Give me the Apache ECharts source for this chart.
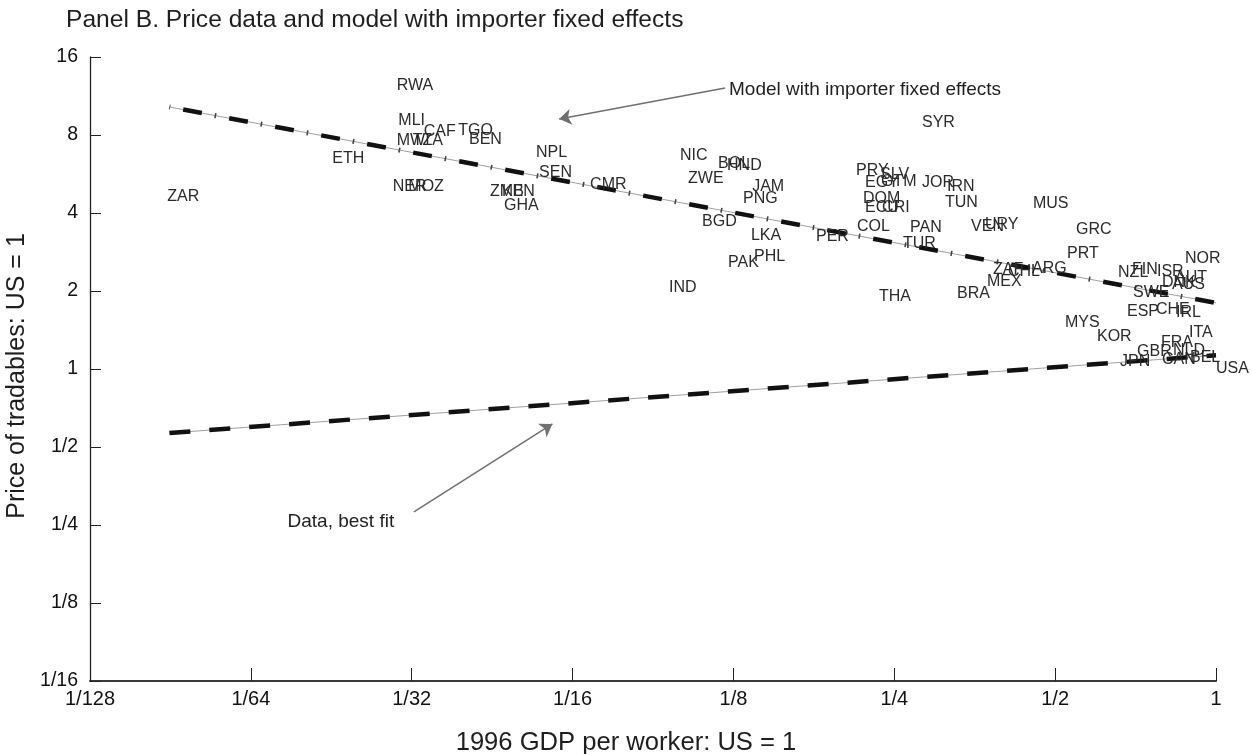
<!DOCTYPE html>
<html>
<head>
<meta charset="utf-8">
<title>Panel B. Price data and model with importer fixed effects</title>
<script src="https://cdn.jsdelivr.net/npm/echarts@6/dist/echarts.min.js"></script>
<style>
  html, body { margin: 0; padding: 0; background: #ffffff; }
  #chart { width: 1252px; height: 754px; }
</style>
</head>
<body>
<div id="chart"></div>
<script>
// Country codes with GDP per worker and price of tradables (both relative to the US)
const countryCodes = [
  'ZAR', 'ETH', 'RWA', 'MLI', 'MWI', 'TZA', 'CAF', 'TGO', 'BEN', 'NER',
  'MOZ', 'ZMB', 'KEN', 'GHA', 'NPL', 'SEN', 'CMR', 'IND', 'NIC', 'ZWE',
  'BGD', 'BOL', 'HND', 'PAK', 'PNG', 'LKA', 'JAM', 'PHL', 'PER', 'PRY',
  'COL', 'DOM', 'EGY', 'ECU', 'THA', 'SLV', 'GTM', 'CRI', 'TUR', 'PAN',
  'SYR', 'JOR', 'TUN', 'IRN', 'BRA', 'VEN', 'URY', 'MEX', 'ZAF', 'CHL',
  'ARG', 'MUS', 'MYS', 'PRT', 'GRC', 'KOR', 'NZL', 'JPN', 'ESP', 'FIN',
  'SWE', 'GBR', 'CHE', 'ISR', 'FRA', 'DNK', 'CAN', 'AUS', 'NLD', 'AUT',
  'IRL', 'NOR', 'ITA', 'BEL', 'USA'
];
const gdpPerWorker = [
  0.0109, 0.0222, 0.0293, 0.0295, 0.0293, 0.0314, 0.0329, 0.0382, 0.0400, 0.0288,
  0.0308, 0.0438, 0.0461, 0.0465, 0.0534, 0.0541, 0.0674, 0.0947, 0.0993, 0.1028,
  0.1092, 0.1170, 0.1216, 0.1221, 0.1303, 0.1348, 0.1355, 0.1366, 0.1784, 0.2120,
  0.2128, 0.2185, 0.2204, 0.2204, 0.2341, 0.2351, 0.2360, 0.2372, 0.2595, 0.2676,
  0.2817, 0.2817, 0.3110, 0.3138, 0.3276, 0.3480, 0.3696, 0.3727, 0.3826, 0.4081,
  0.4525, 0.4544, 0.5217, 0.5263, 0.5471, 0.5988, 0.6557, 0.6612, 0.6815, 0.6964,
  0.6993, 0.7115, 0.7721, 0.7755, 0.7890, 0.7924, 0.7924, 0.8273, 0.8309, 0.8381,
  0.8417, 0.8749, 0.8901, 0.8939, 1.0000
];
const tradablesPrice = [
  4.61, 6.46, 12.36, 9.06, 7.58, 7.58, 8.21, 8.29, 7.65, 5.08,
  5.04, 4.82, 4.82, 4.26, 6.82, 5.71, 5.13, 2.07, 6.64, 5.41,
  3.69, 6.18, 6.08, 2.57, 4.53, 3.26, 5.04, 2.71, 3.23, 5.81,
  3.56, 4.53, 5.22, 4.18, 1.90, 5.61, 5.27, 4.18, 3.06, 3.50,
  8.90, 5.22, 4.37, 5.08, 1.95, 3.53, 3.60, 2.17, 2.41, 2.37,
  2.43, 4.33, 1.51, 2.78, 3.44, 1.33, 2.35, 1.07, 1.66, 2.41,
  1.98, 1.17, 1.70, 2.37, 1.26, 2.15, 1.09, 2.11, 1.18, 2.25,
  1.65, 2.66, 1.38, 1.11, 1.00
];

// Fitted lines, evaluated at the poorest country and at the US
const fitGdp = [0.011, 1];
const modelFitPrice = [10.26, 1.80];
const dataFitPrice = [0.566, 1.13];

// Callout texts and their arrows (GDP, price)
const calloutText = ['Model with importer fixed effects', 'Data, best fit'];
const calloutGdp = [0.1221, 0.0291];
const calloutPrice = [11.94, 0.2567];
const arrowStartGdp = [0.1206, 0.03155];
const arrowStartPrice = [12.15, 0.2808];
const arrowEndGdp = [0.0590, 0.0573];
const arrowEndPrice = [9.22, 0.6135];

const FONT = '"Liberation Sans", Arial, Helvetica, sans-serif';
const INK = '#1e1e1e';

function fractionLabel(v) {
  if (v >= 1) return String(Math.round(v));
  return '1/' + Math.round(1 / v);
}

const points = countryCodes.map((c, i) => ({ name: c, value: [gdpPerWorker[i], tradablesPrice[i]] }));
const modelLine = fitGdp.map((x, i) => [x, modelFitPrice[i]]);
const dataLine = fitGdp.map((x, i) => [x, dataFitPrice[i]]);

function fitSeries(data, lineStyle, z) {
  return { type: 'line', data: data, symbol: 'none', silent: true, z: z, lineStyle: lineStyle, emphasis: { disabled: true } };
}

// Invisible anchor symbols; opacity 1 so the attached text stays fully opaque
const hiddenAnchor = { color: 'transparent', opacity: 1 };

const chart = echarts.init(document.getElementById('chart'), null, { renderer: 'canvas' });
chart.setOption({
  animation: false,
  backgroundColor: '#ffffff',
  title: {
    text: 'Panel B. Price data and model with importer fixed effects',
    left: 61, top: 3,
    textStyle: { fontFamily: FONT, fontSize: 24.6, fontWeight: 'normal', color: INK }
  },
  grid: { left: 90, right: 36, top: 57, bottom: 73, outerBoundsMode: 'none' },
  xAxis: {
    type: 'log', logBase: 2, min: 1 / 128, max: 1, splitNumber: 7,
    name: '1996 GDP per worker: US = 1',
    nameLocation: 'middle', nameGap: 49,
    nameTextStyle: { fontFamily: FONT, fontSize: 25.6, color: INK, padding: [0, 54, 0, 0] },
    axisLine: { lineStyle: { color: '#3a3a3a', width: 2 } },
    axisTick: { inside: true, length: 13, lineStyle: { color: '#222', width: 1 } },
    axisLabel: { fontFamily: FONT, fontSize: 20, color: '#111', margin: 8, formatter: fractionLabel },
    splitLine: { show: false }
  },
  yAxis: {
    type: 'log', logBase: 2, min: 1 / 16, max: 16, splitNumber: 8,
    name: 'Price of tradables: US = 1',
    nameLocation: 'middle', nameGap: 50,
    nameTextStyle: { fontFamily: FONT, fontSize: 25, color: INK, padding: [0, 14, 0, 0] },
    axisLine: { lineStyle: { color: '#222', width: 1.3 } },
    axisTick: { inside: true, length: 11, lineStyle: { color: '#222', width: 1 } },
    axisLabel: { fontFamily: FONT, fontSize: 19.5, color: '#111', margin: 12, formatter: fractionLabel },
    splitLine: { show: false }
  },
  series: [
    // Model with importer fixed effects: thin rule, heavy dashes, small cross ticks
    fitSeries(modelLine, { color: '#a0a0a0', width: 1 }, 2),
    fitSeries(modelLine, { color: '#111', width: 4.5, type: [19, 27.8], dashOffset: 32.8, cap: 'butt' }, 3),
    fitSeries(modelLine, { color: '#444', width: 5, type: [1.6, 45.2], dashOffset: 0.8, cap: 'butt' }, 3),
    // Best fit through the data
    fitSeries(dataLine, { color: '#a0a0a0', width: 1 }, 2),
    fitSeries(dataLine, { color: '#111', width: 4.5, type: [21, 19], dashOffset: 0, cap: 'butt' }, 3),
    {
      type: 'scatter',
      data: points,
      symbolSize: 0,
      itemStyle: hiddenAnchor,
      silent: true,
      z: 5,
      label: {
        show: true, position: 'right', distance: 0, formatter: '{b}',
        fontFamily: FONT, fontSize: 16, color: '#2a2a2a'
      },
      emphasis: { disabled: true }
    },
    {
      type: 'scatter',
      data: calloutText.map((t, i) => ({
        name: t,
        value: [calloutGdp[i], calloutPrice[i]],
        label: { position: i === 0 ? 'right' : 'left' }
      })),
      symbolSize: 0,
      itemStyle: hiddenAnchor,
      silent: true,
      z: 6,
      label: {
        show: true, distance: 1, formatter: '{b}',
        fontFamily: FONT, fontSize: 19, color: INK
      },
      emphasis: { disabled: true },
      markLine: {
        silent: true,
        symbol: ['none', 'arrow'],
        symbolSize: 12,
        label: { show: false },
        emphasis: { disabled: true },
        lineStyle: { color: '#707070', width: 1.5, type: 'solid', opacity: 1 },
        data: calloutText.map((t, i) => [
          { coord: [arrowStartGdp[i], arrowStartPrice[i]] },
          { coord: [arrowEndGdp[i], arrowEndPrice[i]] }
        ])
      }
    }
  ]
});
</script>
</body>
</html>
